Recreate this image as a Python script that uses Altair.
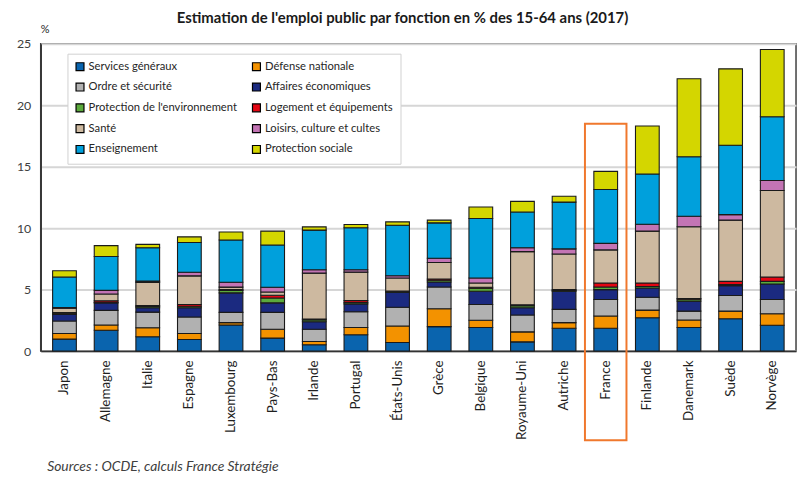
import altair as alt
import pandas as pd

countries = ["Japon", "Allemagne", "Italie", "Espagne", "Luxembourg", "Pays-Bas",
             "Irlande", "Portugal", "États-Unis", "Grèce", "Belgique", "Royaume-Uni",
             "Autriche", "France", "Finlande", "Danemark", "Suède", "Norvège"]

categories = ["Services généraux", "Défense nationale", "Ordre et sécurité",
              "Affaires économiques", "Protection de l'environnement",
              "Logement et équipements", "Santé", "Loisirs, culture et cultes",
              "Enseignement", "Protection sociale"]

colors = ["#0A64AE", "#F39200", "#B1B1B1", "#1B2A80", "#5BAA3C",
          "#E30613", "#CDB9A0", "#C374B4", "#00A0DC", "#D4D600"]

services_generaux = [0.97, 1.69, 1.16, 0.94, 2.12, 1.05, 0.51, 1.32, 0.70, 1.99, 1.91, 0.75, 1.85, 1.85, 2.71, 1.91, 2.63, 2.10]
defense = [0.46, 0.43, 0.74, 0.49, 0.19, 0.72, 0.27, 0.59, 1.34, 1.45, 0.59, 0.81, 0.46, 1.00, 0.62, 0.62, 0.62, 0.94]
ordre = [1.02, 1.19, 1.27, 1.34, 0.84, 1.38, 0.99, 1.29, 1.53, 1.77, 1.29, 1.37, 1.08, 1.34, 1.05, 0.72, 1.27, 1.15]
affaires_eco = [0.53, 0.61, 0.35, 0.75, 1.58, 0.77, 0.62, 0.64, 1.21, 0.41, 1.07, 0.59, 1.47, 0.81, 0.75, 0.81, 0.80, 1.27]
environnement = [0.10, 0.05, 0.10, 0.12, 0.20, 0.40, 0.15, 0.12, 0.05, 0.14, 0.25, 0.16, 0.07, 0.21, 0.12, 0.16, 0.10, 0.21]
logement = [0.05, 0.12, 0.08, 0.15, 0.07, 0.22, 0.07, 0.15, 0.05, 0.10, 0.08, 0.08, 0.07, 0.33, 0.29, 0.05, 0.25, 0.35]
sante = [0.35, 0.55, 1.89, 2.33, 0.20, 0.27, 3.73, 2.31, 1.06, 1.34, 0.35, 4.33, 2.90, 2.69, 4.22, 5.84, 4.98, 7.04]
loisirs = [0.05, 0.30, 0.10, 0.29, 0.40, 0.38, 0.27, 0.19, 0.19, 0.35, 0.40, 0.32, 0.41, 0.53, 0.56, 0.86, 0.45, 0.81]
enseignement = [2.50, 2.75, 2.72, 2.42, 3.44, 3.44, 3.23, 3.42, 4.11, 2.88, 4.84, 2.90, 3.81, 4.39, 4.09, 4.84, 5.65, 5.19]
protection_sociale = [0.50, 0.89, 0.27, 0.46, 0.65, 1.13, 0.26, 0.26, 0.27, 0.22, 0.94, 0.87, 0.48, 1.47, 3.90, 6.34, 6.21, 5.48]

series = [services_generaux, defense, ordre, affaires_eco, environnement,
          logement, sante, loisirs, enseignement, protection_sociale]

y_ticks = [0, 5, 10, 15, 20, 25]
highlight_country = ["France"]
highlight_top = [18.5]
highlight_bottom = [-7.25]

rows = []
for k, (cat, vals) in enumerate(zip(categories, series)):
    for c, v in zip(countries, vals):
        rows.append({"pays": c, "fonction": cat, "valeur": v, "ordre": k})
df = pd.DataFrame(rows)
hl = pd.DataFrame({"pays": highlight_country, "haut": highlight_top,
                   "bas": highlight_bottom})

x_axis = alt.Axis(
    labelAngle=-90, labelFontSize=13.5, labelColor="#1f1f1f", labelPadding=9,
    ticks=False, tickSize=0, domainColor="#333333", domainWidth=1.5,
    title="Sources : OCDE, calculs France Stratégie", titleAngle=0,
    titleAnchor="start", titleAlign="left", titleBaseline="middle",
    titleX=6, titleY=117, titleFontStyle="italic", titleFontWeight="normal",
    titleFontSize=14, titleColor="#404040",
)
x_scale = alt.Scale(paddingInner=0.43, paddingOuter=0.286)

bars = alt.Chart(df).mark_bar(stroke="#1a1a1a", strokeWidth=1.1).encode(
    x=alt.X("pays:N", sort=countries, scale=x_scale, axis=x_axis),
    y=alt.Y("valeur:Q", stack="zero",
            scale=alt.Scale(domain=[0, 25], nice=False),
            axis=alt.Axis(values=y_ticks, ticks=False, tickSize=0, labelPadding=10,
                          labelFontSize=12.5, labelColor="#404040",
                          domainColor="#333333", domainWidth=1.5,
                          gridColor="#D6D6D6", gridWidth=2,
                          title="%", titleAngle=0, titleX=4, titleY=-14,
                          titleAlign="center", titleBaseline="middle",
                          titleFontWeight="normal", titleFontSize=11,
                          titleColor="#262626")),
    color=alt.Color("fonction:N", sort=categories,
                    scale=alt.Scale(domain=categories, range=colors),
                    legend=alt.Legend(
                        orient="none", legendX=27, legendY=10, columns=2,
                        direction="horizontal",
                        title=None, symbolType="square", symbolSize=64,
                        symbolStrokeColor="#000000", symbolStrokeWidth=1.2,
                        labelFontSize=11.3, labelColor="#262626", labelLimit=300,
                        labelOffset=3, rowPadding=7, columnPadding=12,
                        padding=7, fillColor="white", strokeColor="#D0D0D0",
                        symbolOpacity=1)),
    order=alt.Order("ordre:Q", sort="ascending"),
)

box = alt.Chart(hl).mark_bar(fill=None, stroke="#F0782D", strokeWidth=2,
                             filled=False, clip=False,
                             width=alt.RelativeBandSize(1.75)).encode(
    x=alt.X("pays:N", sort=countries, scale=x_scale, axis=x_axis),
    y=alt.Y("haut:Q"),
    y2=alt.Y2("bas:Q"),
)

chart = alt.layer(bars, box).properties(
    width=762, height=310,
    autosize=alt.AutoSizeParams(type="none"),
    padding={"left": 33, "top": 34, "right": 2, "bottom": 128},
    title=alt.Title("Estimation de l'emploi public par fonction en % des 15-64 ans (2017)",
                    fontSize=15, fontWeight="bold", color="#1a1a1a",
                    anchor="middle", frame="group", offset=-2, dx=-16),
).configure(font="Lato").configure_view(stroke="#404040", strokeWidth=1.5)

chart.save("out.html", embed_options={"renderer": "svg", "actions": False})
